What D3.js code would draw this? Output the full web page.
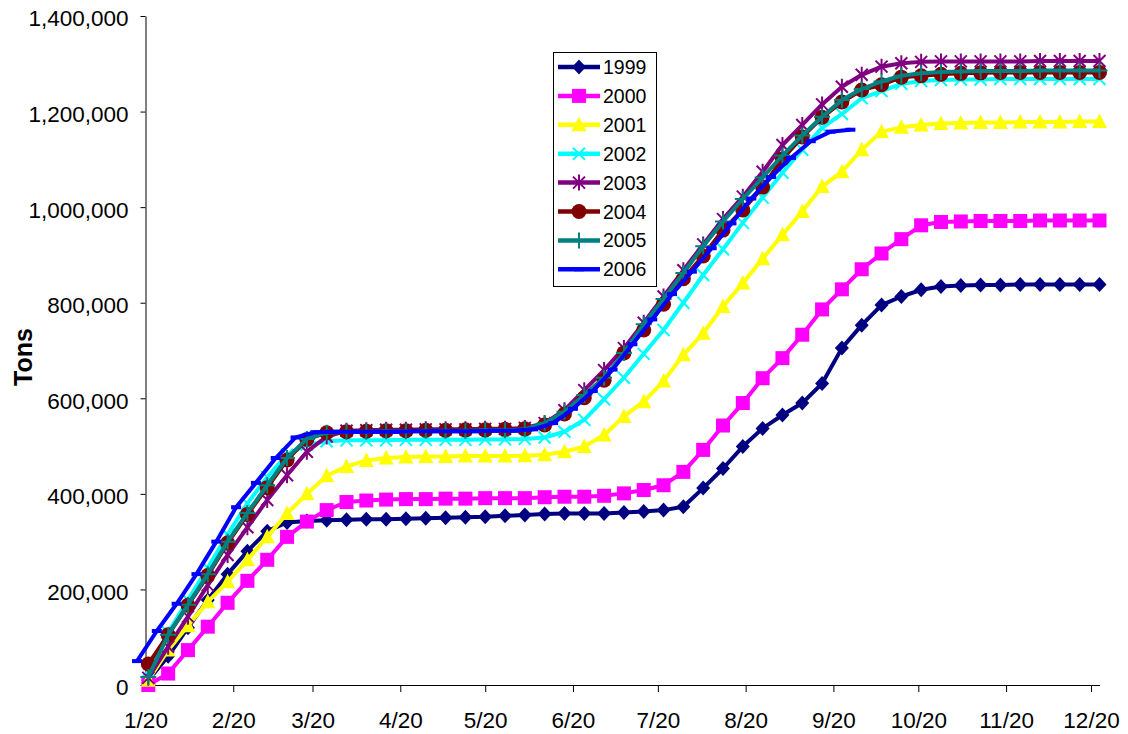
<!DOCTYPE html>
<html><head><meta charset="utf-8">
<script src="https://cdn.jsdelivr.net/npm/d3@7"></script>
<style>
body{margin:0;background:#fff}
svg{display:block}
text{font-family:"Liberation Sans",Arial,sans-serif}
</style>
</head><body>
<svg id="chart" width="1128" height="734"></svg>
<script>
// ---- data (values in thousands of tons) ----
const weeks = ["1/21","1/28","2/4","2/11","2/18","2/25","3/4","3/11","3/18","3/25",
  "4/1","4/8","4/15","4/22","4/29","5/6","5/13","5/20","5/27","6/3",
  "6/10","6/17","6/24","7/1","7/8","7/15","7/22","7/29","8/5","8/12",
  "8/19","8/26","9/2","9/9","9/16","9/23","9/30","10/7","10/14","10/21",
  "10/28","11/4","11/11","11/18","11/25","12/2","12/9","12/16","12/23"];
const weeks2006 = ["1/17","1/24","1/31","2/7","2/14","2/21","2/28","3/7","3/14","3/21",
  "3/28","4/4","4/11","4/18","4/25","5/2","5/9","5/16","5/23","5/30",
  "6/6","6/13","6/20","6/27","7/4","7/11","7/18","7/25","8/1","8/8",
  "8/15","8/22","8/29","9/5","9/12","9/19","9/26"];

const tons1999 = [10,60,120,178,232,280,322,340,343,345,346,347,347,348,349,350,351,352,354,356,
  358,359,359,359,361,363,366,373,412,453,499,537,565,590,631,705,753,795,813,827,
  834,836,837,837,838,838,838,838,838];
const tons2000 = [0,24,73,122,172,218,262,310,342,366,383,386,388,389,389,390,390,391,391,391,
  393,394,394,396,401,408,418,446,492,543,590,642,684,733,786,828,870,903,933,962,
  969,970,971,971,971,972,972,972,972];
const tons2001 = [10,73,124,174,216,262,310,359,400,438,457,470,475,477,478,478,479,479,479,480,
  482,488,499,523,562,593,636,691,736,792,841,892,942,991,1043,1074,1120,1158,1167,1172,
  1175,1176,1177,1177,1178,1178,1178,1179,1179];
const tons2002 = [30,110,178,245,315,380,435,482,503,510,512,512,512,513,513,513,513,514,514,515,
  518,530,555,598,643,693,743,800,858,912,967,1020,1072,1120,1166,1195,1228,1243,1258,1264,
  1266,1267,1267,1268,1268,1268,1268,1268,1268];
const tons2003 = [15,80,143,209,272,330,387,439,488,520,532,533,534,534,535,535,535,536,536,538,
  548,575,617,659,705,758,813,868,922,975,1022,1074,1130,1172,1215,1252,1277,1294,1301,1304,
  1305,1305,1305,1305,1305,1306,1306,1306,1306];
const tons2004 = [44,105,167,229,297,357,413,471,514,528,530,531,532,532,533,533,534,534,535,536,
  544,567,601,638,695,743,797,850,898,952,994,1042,1101,1147,1188,1220,1245,1256,1272,1275,
  1278,1280,1281,1282,1282,1282,1282,1282,1282];
const tons2005 = [17,105,168,232,300,360,418,475,515,528,530,530,531,531,532,532,532,533,533,535,
  548,572,607,643,695,755,808,862,918,970,1017,1062,1108,1150,1189,1224,1247,1263,1275,1280,
  1283,1284,1285,1285,1285,1286,1286,1286,1286];
const tons2006 = [50,113,170,232,300,372,423,475,518,529,530,530,530,530,531,531,531,531,532,532,
  535,548,578,615,660,713,765,818,865,914,966,1018,1063,1103,1138,1158,1162];

const seriesNames = ["1999","2000","2001","2002","2003","2004","2005","2006"];
const seriesColors = ["#000080","#FF00FF","#FFFF00","#00FFFF","#800080","#800000","#008080","#0000FF"];
const seriesMarkers = ["diamond","square","triangle","x","star","circle","plus","dash"];
const seriesValues = [tons1999,tons2000,tons2001,tons2002,tons2003,tons2004,tons2005,tons2006];
const seriesWeeks = [weeks,weeks,weeks,weeks,weeks,weeks,weeks,weeks2006];

const xTickLabels = ["1/20","2/20","3/20","4/20","5/20","6/20","7/20","8/20","9/20","10/20","11/20","12/20"];
const yTickValues = [0,200,400,600,800,1000,1200,1400];

// ---- chart ----
const svg = d3.select("#chart");
const parse = s => d3.timeParse("%Y/%m/%d")("2001/" + s);
const x = d3.scaleTime().domain([parse("1/20"), parse("12/23")]).range([145.5, 1099.5]);
const y = d3.scaleLinear().domain([0, 1400]).range([685, 16]);

// axes
const fmt = d3.format(",");
const gy = svg.append("g").attr("transform","translate(145.5,0)")
  .call(d3.axisLeft(y).tickValues(yTickValues).tickFormat(d => fmt(d*1000))
    .tickSize(5).tickSizeOuter(0).tickPadding(12));
gy.selectAll("text").attr("dy","0.44em");
const gx = svg.append("g").attr("transform","translate(0,685)")
  .call(d3.axisBottom(x).tickValues(xTickLabels.map(parse)).tickFormat((d,i) => xTickLabels[i])
    .tickSize(7).tickSizeOuter(0).tickPadding(20));
[gx, gy].forEach(g => {
  g.attr("font-family", null).attr("font-size", null);
  g.selectAll("text").style("font-size","22.5px").attr("fill","#000");
  g.selectAll("line").attr("stroke","#000");
  g.select(".domain").attr("stroke","#000");
});

svg.append("text").attr("transform","translate(32,357) rotate(-90)")
  .attr("text-anchor","middle").style("font-size","25px").style("font-weight","bold").text("Tons");

// markers
function drawMarker(g, type, color) {
  switch (type) {
    case "diamond": g.append("path").attr("d","M0,-7.5L7,0L0,7.5L-7,0Z").attr("fill",color); break;
    case "square": g.append("rect").attr("x",-7).attr("y",-7).attr("width",14).attr("height",14).attr("fill",color); break;
    case "triangle": g.append("path").attr("d","M0,-8L7.5,6.5L-7.5,6.5Z").attr("fill",color); break;
    case "x": g.append("path").attr("d","M-6,-6L6,6M-6,6L6,-6").attr("stroke",color).attr("stroke-width",2); break;
    case "star": g.append("path").attr("d","M-6,-6L6,6M-6,6L6,-6M0,-8L0,8").attr("stroke",color).attr("stroke-width",2); break;
    case "circle": g.append("circle").attr("r",7.5).attr("fill",color); break;
    case "plus": g.append("path").attr("d","M-8,0H8M0,-8V8").attr("stroke",color).attr("stroke-width",2); break;
    case "dash": g.append("path").attr("d","M-5,0H5").attr("stroke",color).attr("stroke-width",4); break;
  }
}

const line = d3.line().x(d => x(d.date)).y(d => y(d.v));
seriesNames.forEach((name, si) => {
  const data = seriesValues[si].map((v, i) => ({date: parse(seriesWeeks[si][i]), v}));
  const g = svg.append("g");
  g.append("path").datum(data).attr("d", line).attr("fill","none")
    .attr("stroke", seriesColors[si]).attr("stroke-width", 4).attr("stroke-linejoin","round");
  g.selectAll("g.m").data(data).join("g").attr("class","m")
    .attr("transform", d => `translate(${x(d.date)},${y(d.v)})`)
    .each(function() { drawMarker(d3.select(this), seriesMarkers[si], seriesColors[si]); });
});

// legend
const lg = svg.append("g");
lg.append("rect").attr("x",553.5).attr("y",52.5).attr("width",103).attr("height",234)
  .attr("fill","#fff").attr("stroke","#000").attr("stroke-width",1);
seriesNames.forEach((name, si) => {
  const ry = 67 + 28.9 * si;
  lg.append("line").attr("x1",558).attr("x2",600).attr("y1",ry).attr("y2",ry)
    .attr("stroke",seriesColors[si]).attr("stroke-width",4.5);
  drawMarker(lg.append("g").attr("transform",`translate(579,${ry})`), seriesMarkers[si], seriesColors[si]);
  lg.append("text").attr("x",603).attr("y",ry).attr("dy","0.36em").style("font-size","19.5px").text(name);
});
</script>
</body></html>
